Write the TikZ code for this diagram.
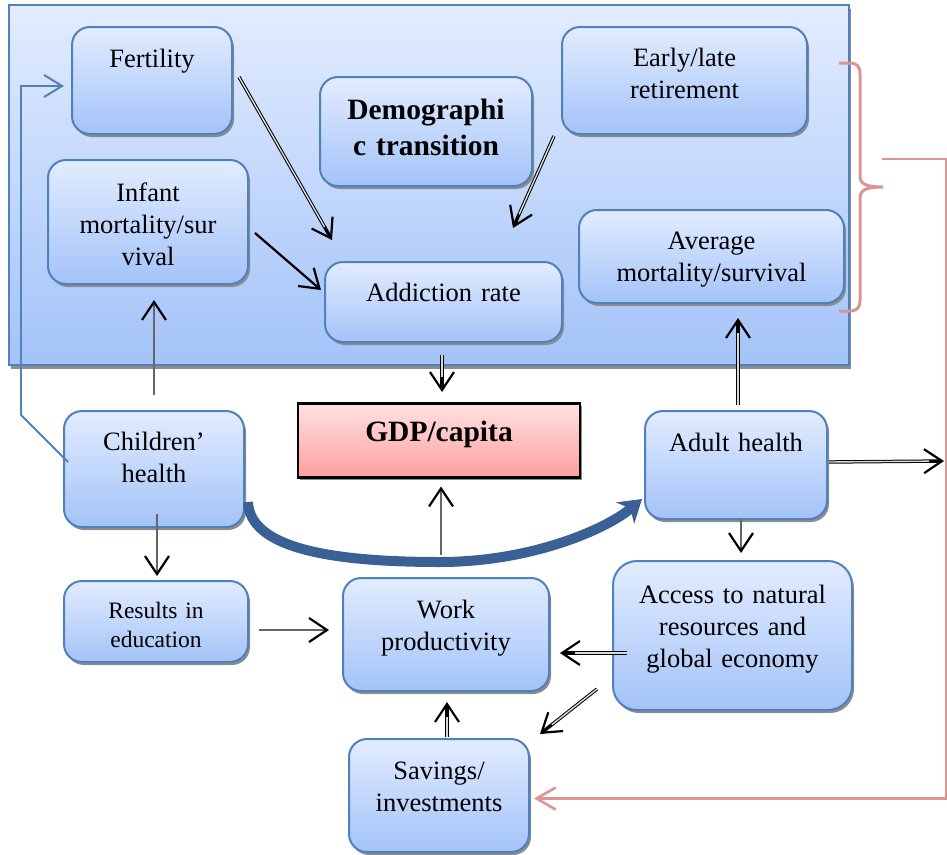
\documentclass[tikz,border=0pt]{standalone}
\usepackage{fontspec}
\setmainfont{Liberation Serif}
\usetikzlibrary{arrows.meta,calc,shadows}
\definecolor{boxline}{RGB}{79,129,189}
\definecolor{boxtop}{RGB}{226,236,255}
\definecolor{boxbot}{RGB}{163,195,248}
\definecolor{gdptop}{RGB}{255,226,226}
\definecolor{gdpbot}{RGB}{255,158,158}
\definecolor{curveblue}{RGB}{59,96,150}
\definecolor{bracepink}{RGB}{217,150,148}

\begin{document}
\begin{tikzpicture}[
    x=1pt, y=-1pt,
    font=\fontsize{26.5}{32}\selectfont,
    box/.style={draw=boxline, line width=2pt, rounded corners=18pt, top color=boxtop, bottom color=boxbot, inner sep=0pt, align=center, anchor=north,
        drop shadow={shadow xshift=2pt, shadow yshift=-3pt, fill=black!45, opacity=1}},
    gdpbox/.style={box, draw=black, line width=2.5pt, sharp corners, top color=gdptop, bottom color=gdpbot},
    panel/.style={draw=boxline, line width=2pt, top color=boxtop, bottom color=boxbot,
        drop shadow={shadow xshift=2pt, shadow yshift=-4pt, fill=black!45, opacity=1}},
    heading/.style={font=\fontsize{29.5}{36}\selectfont\bfseries},
    small/.style={font=\fontsize{23.5}{29}\selectfont},
    arrow/.style={draw=black!60, line width=2.2pt, -{Straight Barb[length=18pt,width=24pt,line width=2.2pt,color=black]}},
    dblarrow/.style={draw=black, line width=3.4pt, -{Straight Barb[length=18pt,width=24pt,line width=2.2pt]},
        postaction={draw=white!85!black, line width=1.4pt, -, shorten >=15pt}},
    thinblue/.style={draw=boxline, line width=1.8pt, -{Straight Barb[length=18pt,width=22pt,line width=2pt]}},
    pinkarrow/.style={draw=bracepink, line width=2.8pt, -{Straight Barb[length=19pt,width=22pt,line width=2.6pt]}},
    bigarrow/.style={draw=curveblue, line width=10pt, -{Stealth[length=22pt,width=28pt,inset=7pt,line width=1pt]}}
]
\useasboundingbox (0,0) rectangle (947,854);

% demographic panel
\shade[panel] (9,5) rectangle (849,365);

\node[box, text width=160pt, text height=40pt, text depth=67pt] (fert) at (152,26) {Fertility};
\node[box, text width=200pt, text height=41pt, text depth=83pt] (inf) at (148,159) {Infant\\mortality/sur\\vival};
\node[box, heading, text width=212pt, text height=42pt, text depth=67pt] (demo) at (426,76) {Demographi\\c transition};
\node[box, text width=245pt, text height=39pt, text depth=68pt] (early) at (684.5,26) {Early/late\\retirement};
\node[box, text width=237pt, text height=39pt, text depth=41pt] (add) at (443.5,261) {Addiction rate};
\node[box, text width=265pt, text height=39pt, text depth=54pt] (avg) at (711.5,209) {Average\\mortality/survival};

\node[gdpbox, heading, text width=282pt, text height=38pt, text depth=36pt] (gdp) at (439,402) {GDP/capita};
\node[box, text width=180pt, text height=39pt, text depth=77pt] (child) at (154,410) {Children’\\health};
\node[box, text width=182pt, text height=40pt, text depth=68pt] (adult) at (736,410) {Adult health};
\node[box, small, text width=184pt, text height=37pt, text depth=44pt] (res) at (156,580) {Results in\\education};
\node[box, text width=206pt, text height=40pt, text depth=73pt] (work) at (446,577) {Work\\productivity};
\node[box, rounded corners=24pt, text width=239pt, text height=42pt, text depth=107pt] (acc) at (732.5,560) {Access to natural\\resources and\\global economy};
\node[box, text width=180pt, text height=40pt, text depth=73pt] (sav) at (439,738) {Savings/\\investments};

% curved health arrow
\draw[bigarrow] ($(child.south east)+(3,-26)$) .. controls (250,548) and (330,562) .. (440,562)
    .. controls (530,562) and (605,530) .. ($(adult.south west)+(-2,-21)$);

\coordinate (outR) at (944,461);
\coordinate (pinkStart) at (882,159);

\draw[dblarrow] ($(fert.east)+(6,-3.5)$) -- ($(add.north west)+(8,-21)$);
\draw[arrow, draw=black] ($(inf.east)+(6,11)$) -- ($(add.west)+(-3,-12)$);
\draw[dblarrow] ($(early.south west)+(-7,1)$) -- ($(add.north east)+(-50,-33)$);
\draw[arrow] ($(child.north)+(0,-15)$) -- ($(inf.south)+(6,15)$);
\draw[dblarrow] ($(add.south)+(-1.5,12)$) -- ($(gdp.north)+(3,-10)$);
\draw[dblarrow] ($(adult.north)+(2,-5)$) -- ($(avg.south)+(26.5,14)$);
\draw[arrow] ($(work.north)+(-5,-22)$) -- ($(gdp.south)+(2,8)$);
\draw[arrow] ($(child.south)+(3,-14)$) -- ($(res.north)+(1,-4)$);
\draw[arrow] ($(res.east)+(10,8.5)$) -- ($(work.west)+(-13,-4.5)$);
\draw[arrow] ($(adult.south)+(5,-1)$) -- ($(acc.north)+(8.5,-7)$);
\draw[dblarrow] ($(acc.west)+(15,17.5)$) -- ($(work.east)+(10,18.5)$);
\draw[dblarrow] ($(acc.south west)+(-15,-22)$) -- ($(sav.north east)+(10,-4)$);
\draw[dblarrow] ($(sav.north)+(8,-1)$) -- ($(work.south)+(1,10)$);
\draw[dblarrow] ($(adult.east)+(1,-3)$) -- (outR);

% feedback lines
\draw[thinblue] ($(child.west)+(5,-7)$) -- (21,415) |- ($(fert.west)+(-7,5.5)$);
\draw[draw=bracepink, line width=3pt] (839,63) -- (849,63) .. controls (857,63) and (860,66) .. (860,74) -- (860,176)
    .. controls (860,184) and (866,187) .. (883,187) .. controls (866,187) and (860,190) .. (860,198) -- (860,300)
    .. controls (860,308) and (857,311) .. (849,311) -- (839,311);
\draw[pinkarrow] (pinkStart) -- (946.5,159) |- ($(sav.east)+(4,3)$);
\end{tikzpicture}
\end{document}
